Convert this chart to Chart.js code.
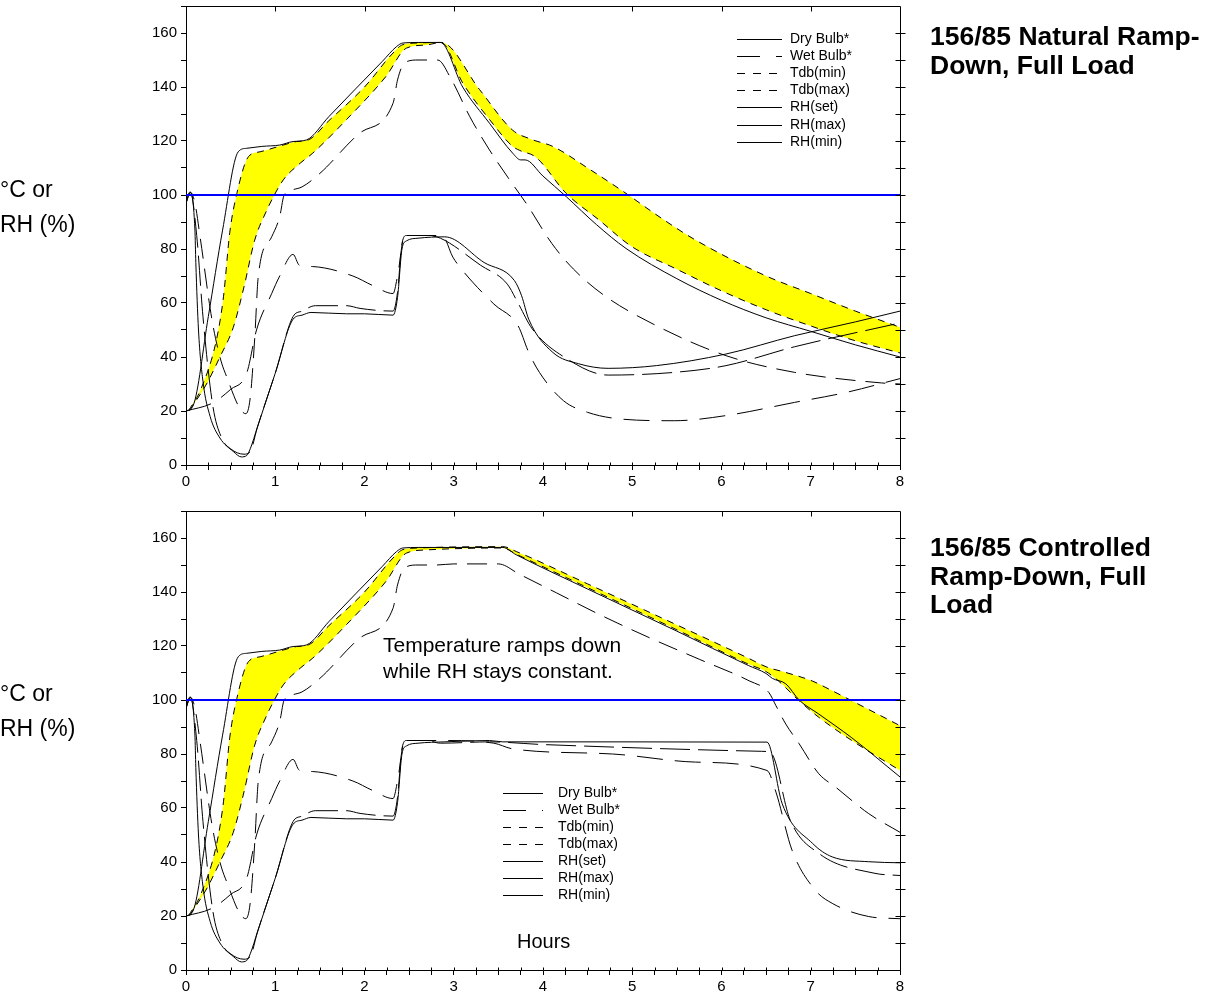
<!DOCTYPE html>
<html>
<head>
<meta charset="utf-8">
<script src="https://cdn.jsdelivr.net/npm/chart.js@4.4.1/dist/chart.umd.min.js"></script>
<style>
  body { margin: 0; background: #fff; font-family: Arial, "Liberation Sans", sans-serif; }
  #page { position: relative; width: 1216px; height: 995px; overflow: hidden; }
  canvas { position: absolute; left: 0; }
  .txt { position: absolute; color: #000; white-space: nowrap; }
  .ytitle { left: 0; font-size: 23px; line-height: 35px; }
  .title { left: 930px; font-size: 26.5px; font-weight: bold; line-height: 28.5px; }
  .note { font-size: 21px; line-height: 26px; }
  .axis { font-size: 20px; line-height: 26px; }
</style>
</head>
<body>
<div id="page">
  <canvas id="natural" width="1216" height="490" style="top:0"></canvas>
  <canvas id="controlled" width="1216" height="505" style="top:490px"></canvas>

  <div class="txt ytitle" style="top:172px">°C or<br>RH (%)</div>
  <div class="txt ytitle" style="top:676px">°C or<br>RH (%)</div>
  <div class="txt title" style="top:22px">156/85 Natural Ramp-<br>Down, Full Load</div>
  <div class="txt title" style="top:533px">156/85 Controlled<br>Ramp-Down, Full<br>Load</div>
  <div class="txt note" style="left:383px; top:632px">Temperature ramps down<br>while RH stays constant.</div>
  <div class="txt axis" style="left:517px; top:928px">Hours</div>
</div>

<script>
// axis ranges
const hoursRange = [0, 8];
const valueRange = [0, 170];
const saturationLine = 100;

const legendLabels = ['Dry Bulb*', 'Wet Bulb*', 'Tdb(min)', 'Tdb(max)', 'RH(set)', 'RH(max)', 'RH(min)'];

// [hours, value] - ramp-up part is the same in both runs
const dryBulbRise = [[0,20],[0.08,22],[0.25,55],[0.41,87],[0.585,116],[0.68,117.3],[0.85,118],[1.05,118.5],[1.2,119.8],[1.35,120.4],[1.6,129],[1.9,139.3],[2.2,149.5],[2.36,155],[2.43,156.3],[2.6,156.5]];
const dryBulbNatural = [[2.85,156.5],[3.1,140],[3.4,126.6],[3.66,115.5],[3.75,113],[3.8,113],[4.0,107],[4.26,99.4],[4.6,89],[4.93,80.2],[5.5,69],[6,61],[6.5,54.5],[7,49.5],[7.5,44.5],[8,40]];
const dryBulbControlled = [[3.55,156.5],[3.7,153.8],[4.5,141.1],[5.5,125.5],[6.3,112.8],[6.5,109.8],[6.57,108],[6.72,106],[6.87,100],[7.09,94.8],[7.46,86],[8,71.5]];

const wetBulbRise = [[0,97],[0.05,101],[0.1,97],[0.16,84],[0.29,54],[0.38,40],[0.44,34],[0.67,19],[0.72,25],[0.77,47],[0.81,70],[0.96,84.5],[1.05,92],[1.1,100],[1.2,102],[1.3,103],[1.5,108],[1.95,123],[2.32,134],[2.37,142.6],[2.45,149],[2.6,150],[2.8,150]];
const wetBulbNatural = [[2.82,150],[2.97,143],[3.18,129],[3.4,116.7],[3.66,104],[3.81,97],[4.1,82],[4.34,72.6],[4.69,62.7],[5.27,51.6],[6.05,40.5],[6.82,34.3],[7.79,30.4],[8,30]];
const wetBulbControlled = [[3.0,150.4],[3.5,150.4],[3.74,146.5],[4.15,139.7],[4.63,131.7],[5.19,123.1],[5.75,115.1],[6.31,107.1],[6.53,102.8],[6.61,97.9],[6.72,91.1],[6.87,83.8],[7.09,72.7],[7.28,67.7],[7.65,57.9],[8,51]];

const tdbMinRise = [[0.04,20.2],[0.23,30],[0.38,40],[0.53,51],[0.65,66],[0.77,83.3],[0.9,94],[0.98,99.4],[1.09,105.6],[1.28,111.8],[1.42,115.5],[1.8,128],[2.24,143.9],[2.47,154.4],[2.7,155.6]];
const tdbMinNatural = [[2.86,156.5],[3.1,141.5],[3.4,128],[3.66,118],[3.74,116.5],[3.92,114],[4.26,100.6],[4.63,90.7],[4.99,81],[5.5,72.5],[6,64.5],[6.5,57.5],[7,51.5],[7.5,46],[8,41.5]];
const tdbMinControlled = [[3.55,156.3],[3.7,154],[4.5,141.6],[5.5,126],[6.3,113.3],[6.5,110.5],[6.64,107],[6.87,99.7],[7.09,93.6],[7.46,85],[8,73.9]];

const tdbMaxRise = [[0.03,20.2],[0.16,27.6],[0.34,46.2],[0.42,62.3],[0.49,86],[0.57,100.6],[0.7,114.2],[0.83,116],[1.09,118.5],[1.24,119.8],[1.37,120.4],[1.6,127.5],[2.0,140],[2.32,152.6],[2.43,155.7],[2.6,156.3]];
const tdbMaxNatural = [[2.86,156.5],[3.29,139],[3.66,124],[3.88,120.5],[4.11,118],[4.5,110],[4.93,100.6],[5.3,92],[5.71,83.3],[6.5,70],[7,63.5],[7.5,57],[8,51]];
const tdbMaxControlled = [[3.55,156.8],[3.7,155],[4.5,143],[5.5,127.8],[6.3,115.5],[6.5,112.3],[6.72,110.2],[7.02,107],[7.17,104.6],[7.46,99.7],[8,90.5]];

const rhSetRise = [[0,97],[0.04,101],[0.1,87],[0.11,75],[0.14,50],[0.19,31],[0.27,18],[0.38,10],[0.53,5],[0.62,3],[0.68,3.5],[0.72,6],[0.8,14],[1.0,34],[1.2,54],[1.3,55.5],[1.4,56.5],[1.8,56],[2.0,56],[2.32,55.5],[2.37,62],[2.42,80],[2.47,83],[2.6,84],[2.9,84.5]];
const rhSetNatural = [[3.34,75],[3.68,68.3],[3.76,62.7],[3.84,54],[4.11,41.7],[4.4,37.5],[4.73,35.8],[5.27,36.8],[6.05,41.1],[6.82,47.9],[7.5,53],[8,57]];
const rhSetControlled = [[3.4,85],[3.55,84.5],[6.51,84.4],[6.68,61.6],[7.02,46.9],[7.24,41.9],[7.65,40.1],[8,39.7]];

const rhMaxRise = [[0,97],[0.05,101],[0.12,85],[0.19,55],[0.3,22],[0.4,10],[0.5,6],[0.65,4],[0.72,5],[0.8,14],[1.0,34],[1.2,55],[1.3,57],[1.45,59],[1.8,59],[1.95,58],[2.32,57],[2.37,64],[2.42,82],[2.47,85],[2.7,85],[2.85,84]];
const rhMaxNatural = [[3.3,74],[3.6,67],[3.72,60],[3.88,50.4],[4.27,39.3],[4.73,33.3],[5.47,34.3],[6.05,36.8],[6.82,43.8],[8,52.6]];
const rhMaxControlled = [[3.4,84.5],[4.0,83.5],[6.45,81],[6.55,80.5],[6.77,55.5],[7.09,43.2],[7.72,35.8],[8,35]];

const rhMinRise = [[0,20],[0.3,23],[0.5,28],[0.68,34],[0.79,50],[0.96,63.5],[1.05,70],[1.2,78],[1.27,74],[1.42,73.5],[1.87,70],[2.09,66.5],[2.32,63.5],[2.37,70],[2.45,85],[2.6,85],[2.87,85]];
const rhMinNatural = [[2.99,77],[3.1,72],[3.45,59.6],[3.72,51.6],[3.84,41.7],[3.96,34.3],[4.23,23.8],[4.5,19.5],[4.88,17],[5.47,16.4],[6.05,18.3],[6.82,23.2],[7.4,26.9],[8,32]];
const rhMinControlled = [[3.45,84],[3.66,81.9],[4.78,80],[5.71,77],[6.51,73.9],[6.61,65.9],[6.79,44.4],[7.05,29.6],[7.24,24.7],[7.65,19.8],[8,19]];

const toPoints = (...parts) => [].concat(...parts).map(([x, y]) => ({ x, y }));

// box frame + inner ticks, like the original plot
const framePlugin = {
  id: 'frame',
  afterDraw(chart) {
    const { ctx, chartArea: a, scales: { x, y } } = chart;
    const L = Math.round(a.left) + 0.5, R = Math.round(a.right) + 0.5;
    const T = Math.round(a.top) + 0.5, B = Math.round(a.bottom) + 0.5;
    ctx.save();
    ctx.strokeStyle = '#000';
    ctx.lineWidth = 1;
    ctx.beginPath();
    ctx.moveTo(L, T); ctx.lineTo(R, T); ctx.lineTo(R, B);
    for (let h = 1; h < 8; h++) {
      const px = Math.round(x.getPixelForValue(h)) + 0.5;
      ctx.moveTo(px, T); ctx.lineTo(px, T + 5);
    }
    for (let h = 0.25; h < 8; h += 0.25) {
      const px = Math.round(x.getPixelForValue(h)) + 0.5;
      ctx.moveTo(px, B); ctx.lineTo(px, B - 3);
    }
    for (let v = 10; v <= 160; v += 10) {
      const py = Math.round(y.getPixelForValue(v)) + 0.5;
      ctx.moveTo(R - 5, py); ctx.lineTo(R + 5, py);
    }
    ctx.stroke();
    ctx.restore();
  }
};

const legendPlugin = {
  id: 'seriesKey',
  afterDraw(chart, args, opts) {
    const ctx = chart.ctx;
    const dashes = [[], [23, 16, 6, 100], [8, 8], [8, 8], [], [], []];
    ctx.save();
    ctx.font = '14px Arial, "Liberation Sans", sans-serif';
    ctx.textBaseline = 'middle';
    ctx.fillStyle = '#000';
    ctx.strokeStyle = '#000';
    ctx.lineWidth = 1;
    legendLabels.forEach((label, i) => {
      const yy = Math.round(opts.y + i * opts.rowH) + 0.5;
      ctx.setLineDash(dashes[i]);
      ctx.beginPath();
      ctx.moveTo(opts.x1, yy);
      ctx.lineTo(opts.x2, yy);
      ctx.stroke();
      ctx.setLineDash([]);
      ctx.fillText(label, opts.tx, yy);
    });
    ctx.restore();
  }
};

function makeChart(id, series, legendPos) {
  const ctx = document.getElementById(id).getContext('2d');
  return new Chart(ctx, {
    type: 'line',
    data: {
      datasets: [
        { label: 'RH 100', data: toPoints([[hoursRange[0], saturationLine], [hoursRange[1], saturationLine]]), borderColor: '#0000ff', borderWidth: 2 },
        { label: legendLabels[0], data: series.dry },
        { label: legendLabels[1], data: series.wet, borderDash: [20, 10] },
        { label: legendLabels[2], data: series.tmin, borderDash: [7, 6] },
        { label: legendLabels[3], data: series.tmax, borderDash: [7, 6], fill: 3, backgroundColor: '#ffff00' },
        { label: legendLabels[4], data: series.rhSet },
        { label: legendLabels[5], data: series.rhMax, borderDash: [30, 8] },
        { label: legendLabels[6], data: series.rhMin, borderDash: [26, 12] }
      ]
    },
    options: {
      responsive: false,
      animation: false,
      events: [],
      layout: { padding: { left: 146, right: 316, top: legendPos.top, bottom: 0 } },
      elements: {
        point: { radius: 0 },
        line: { borderColor: '#000', borderWidth: 1, cubicInterpolationMode: 'monotone', fill: false }
      },
      scales: {
        x: {
          type: 'linear',
          min: hoursRange[0],
          max: hoursRange[1],
          afterFit(scale) { scale.height = 25; scale.paddingLeft = 0; scale.paddingRight = 0; },
          grid: { drawOnChartArea: false, color: '#000', tickLength: 5 },
          border: { color: '#000' },
          ticks: {
            stepSize: 0.25,
            autoSkip: false,
            maxRotation: 0,
            padding: 3,
            color: '#000',
            font: { size: 15, family: 'Arial, "Liberation Sans", sans-serif' },
            callback: v => Number.isInteger(v) ? v : ''
          }
        },
        y: {
          min: valueRange[0],
          max: valueRange[1],
          afterFit(scale) { scale.width = 40; scale.paddingTop = 0; scale.paddingBottom = 0; },
          grid: { drawOnChartArea: false, color: '#000', tickLength: 5 },
          border: { color: '#000' },
          ticks: {
            stepSize: 10,
            autoSkip: false,
            padding: 4,
            color: '#000',
            font: { size: 15, family: 'Arial, "Liberation Sans", sans-serif' },
            callback: v => (v % 20 === 0 && v <= 160) ? v : ''
          }
        }
      },
      plugins: {
        legend: { display: false },
        tooltip: { enabled: false },
        filler: { drawTime: 'beforeDatasetsDraw' },
        seriesKey: legendPos
      }
    },
    plugins: [framePlugin, legendPlugin]
  });
}

makeChart('natural', {
  dry: toPoints(dryBulbRise, dryBulbNatural),
  wet: toPoints(wetBulbRise, wetBulbNatural),
  tmin: toPoints(tdbMinRise, tdbMinNatural),
  tmax: toPoints(tdbMaxRise, tdbMaxNatural),
  rhSet: toPoints(rhSetRise, rhSetNatural),
  rhMax: toPoints(rhMaxRise, rhMaxNatural),
  rhMin: toPoints(rhMinRise, rhMinNatural)
}, { top: 6, x1: 737, x2: 782, tx: 790, y: 38.5, rowH: 17.2 });

makeChart('controlled', {
  dry: toPoints(dryBulbRise, dryBulbControlled),
  wet: toPoints(wetBulbRise, wetBulbControlled),
  tmin: toPoints(tdbMinRise, tdbMinControlled),
  tmax: toPoints(tdbMaxRise, tdbMaxControlled),
  rhSet: toPoints(rhSetRise, rhSetControlled),
  rhMax: toPoints(rhMaxRise, rhMaxControlled),
  rhMin: toPoints(rhMinRise, rhMinControlled)
}, { top: 21, x1: 503, x2: 543, tx: 558, y: 302.7, rowH: 17.1 });
</script>
</body>
</html>
